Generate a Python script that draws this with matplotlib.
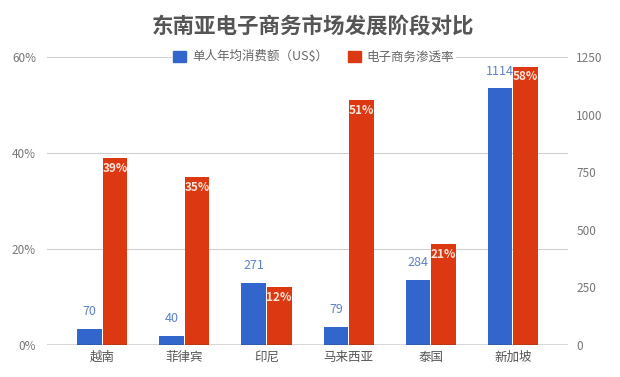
import matplotlib
matplotlib.use("Agg")
from matplotlib import pyplot as plt
from matplotlib.patches import Patch
import numpy as np

plt.rcParams['font.family'] = ['Noto Sans CJK SC', 'DejaVu Sans']

# data
countries = ['越南', '菲律宾', '印尼', '马来西亚', '泰国', '新加坡']
spend = [70, 40, 271, 79, 284, 1114]        # 单人年均消费额 (US$), right axis
penetration = [39, 35, 12, 51, 21, 58]      # 电子商务渗透率 (%), left axis

blue = '#3366cc'
red = '#dc3912'

fig = plt.figure(figsize=(6.2, 3.77), dpi=100)
ax = fig.add_axes([0.076, 0.085, 0.84, 0.764])
ax2 = ax.twinx()

x = np.arange(len(countries))
w = 0.3
off = 0.155

# red bars on left (percent) axis
ax.bar(x + off, penetration, width=w, color=red, zorder=3)
for xi, v in zip(x, penetration):
    ax.text(xi + off, v - 0.8, f"{v}%", ha='center', va='top', color='#fbe3d8',
            fontsize=8.5, fontweight='bold', zorder=4)

# blue bars on right axis
ax2.bar(x - off, spend, width=w, color=blue, zorder=3)
for xi, v in zip(x, spend):
    ax2.text(xi - off, v + 45, str(v), ha='center', va='bottom', color='#5f82c8',
             fontsize=9, zorder=4)

ax.set_xlim(-0.67, len(countries) - 0.33)
ax.set_ylim(0, 60)
ax2.set_ylim(0, 1250)
ax.set_yticks([0, 20, 40, 60])
ax.set_yticklabels(['0%', '20%', '40%', '60%'])
ax2.set_yticks([0, 250, 500, 750, 1000, 1250])
ax.set_xticks(x)
ax.set_xticklabels(countries)

# gridlines follow the left axis, but sit behind both sets of bars
for g in [20, 40, 60]:
    ax2.axhline(g / 60 * 1250, color='#d0d0d0', linewidth=0.8, zorder=0)

for a in (ax, ax2):
    for s in a.spines.values():
        s.set_visible(False)
    a.tick_params(length=0, colors='#777777', labelsize=8.5)
ax.tick_params(axis='x', labelsize=9, colors='#555555', pad=4)
ax.tick_params(axis='y', pad=8)
ax2.tick_params(axis='y', pad=6)
ax.axhline(0, color='#333333', linewidth=1, zorder=5)
ax.set_zorder(ax2.get_zorder() + 1)
ax.patch.set_visible(False)

handles = [Patch(color=blue, label='单人年均消费额（US$）'),
           Patch(color=red, label='电子商务渗透率')]
leg = ax.legend(handles=handles, loc='center', bbox_to_anchor=(0.512, 1.0), ncol=2,
                frameon=True, fontsize=9, handlelength=1.0, handleheight=1.0,
                handletextpad=0.5, columnspacing=1.6, borderpad=0.1)
leg.get_frame().set_facecolor('white')
leg.get_frame().set_edgecolor('none')
leg.get_frame().set_alpha(1)
for t in leg.get_texts():
    t.set_color('#666666')

fig.text(0.505, 0.93, '东南亚电子商务市场发展阶段对比', ha='center', va='center',
         fontsize=15.5, fontweight='bold', color='#555555')

fig.savefig('out.png', dpi=100)
